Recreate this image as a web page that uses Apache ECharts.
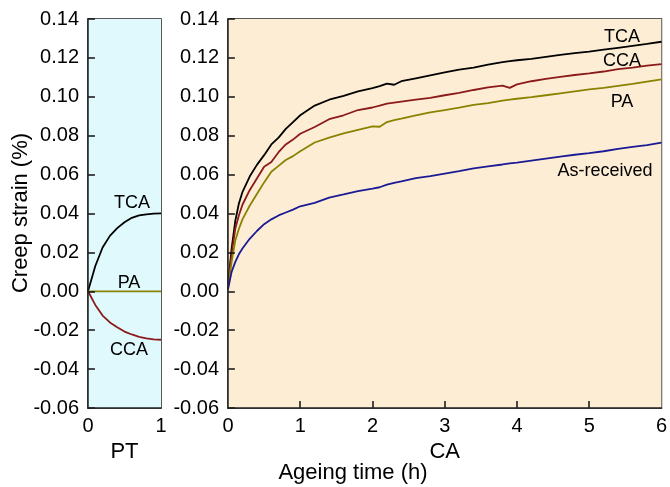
<!DOCTYPE html>
<html>
<head>
<meta charset="utf-8">
<script src="https://cdn.jsdelivr.net/npm/echarts@6/dist/echarts.min.js"></script>
<style>
  html, body { margin: 0; padding: 0; background: #fff; }
  #chart { width: 670px; height: 487px; }
</style>
</head>
<body>
<div id="chart"></div>
<script>
// PT panel (0-1 h)
const timePT = [0, 0.1, 0.2, 0.3, 0.4, 0.5, 0.6, 0.7, 0.8, 0.9, 1.0]
const tcaPT = [0, 0.013, 0.0225, 0.0285, 0.0325, 0.0355, 0.0378, 0.039, 0.0396, 0.0399, 0.0401]
const ccaPT = [0, -0.007, -0.0125, -0.016, -0.0185, -0.0207, -0.0222, -0.0234, -0.0242, -0.0247, -0.0249]
const paPT = [0, 0, 0, 0, 0, 0, 0, 0, 0, 0, 0]

// CA panel (0-6 h)
const timeCA = [0, 0.05, 0.1, 0.15, 0.2, 0.3, 0.4, 0.5, 0.6, 0.7, 0.8, 0.9, 1.0, 1.2, 1.4, 1.6, 1.8, 2.0, 2.1, 2.2,
  2.3, 2.4, 2.6, 2.8, 3.0, 3.2, 3.4, 3.6, 3.8, 3.9, 4.0, 4.2, 4.4, 4.6, 4.8, 5.0, 5.2, 5.4, 5.6, 5.8, 6.0]
const tcaCA = [0.003, 0.022, 0.036, 0.045, 0.051, 0.059, 0.065, 0.070, 0.0755, 0.079, 0.0835, 0.087, 0.0905, 0.0955,
  0.0985, 0.1005, 0.1028, 0.1045, 0.1055, 0.1068, 0.1062, 0.108, 0.1095, 0.111, 0.1125, 0.114, 0.115, 0.1165,
  0.1178, 0.1183, 0.1188, 0.1195, 0.1205, 0.1215, 0.1225, 0.1232, 0.1242, 0.1252, 0.1262, 0.1272, 0.1283]
const ccaCA = [0.003, 0.019, 0.032, 0.039, 0.0445, 0.052, 0.058, 0.064, 0.0665, 0.0715, 0.0755, 0.078, 0.081, 0.0845,
  0.0885, 0.0905, 0.0932, 0.0945, 0.0955, 0.0965, 0.097, 0.0975, 0.0985, 0.0995, 0.1008, 0.102, 0.1035, 0.1048,
  0.1058, 0.1046, 0.1064, 0.108, 0.1092, 0.1102, 0.1112, 0.112, 0.113, 0.1142, 0.115, 0.116, 0.1168]
const paCA = [0.002, 0.015, 0.026, 0.032, 0.037, 0.044, 0.050, 0.056, 0.0615, 0.0645, 0.0675, 0.0695, 0.072, 0.0765,
  0.079, 0.0812, 0.083, 0.0848, 0.0846, 0.087, 0.088, 0.0888, 0.0905, 0.092, 0.0932, 0.0944, 0.0958, 0.0968,
  0.098, 0.0985, 0.099, 0.0998, 0.1008, 0.1018, 0.1028, 0.1038, 0.1046, 0.1056, 0.1066, 0.1078, 0.109]
const asRecCA = [0.001, 0.010, 0.015, 0.019, 0.022, 0.027, 0.031, 0.0345, 0.037, 0.039, 0.0405, 0.042, 0.0437, 0.0455,
  0.0482, 0.0498, 0.0515, 0.0528, 0.0535, 0.0548, 0.0558, 0.0565, 0.0582, 0.0592, 0.0605, 0.0618, 0.0632, 0.0642,
  0.0652, 0.0658, 0.0662, 0.0672, 0.0682, 0.0692, 0.0702, 0.071, 0.072, 0.0732, 0.0742, 0.0752, 0.0764]

// tick values
const yTicks = [-0.06, -0.04, -0.02, 0, 0.02, 0.04, 0.06, 0.08, 0.1, 0.12, 0.14]
const xTicksCA = [1, 2, 3, 4, 5]

const FONT = 'Liberation Sans, Arial, sans-serif'
const colors = { tca: '#000000', cca: '#8b1a1a', pa: '#8a8200', asRec: '#1a1a96' }
const panelBg = ['#dff9fd', '#fdedd4']
const panelX = [[0, 1], [0, 6]]
const tickLenX = [0.095, 0.095] // ~7 px in hours on both panels
const tickLenY = 0.0036 // ~7 px in strain

const pairs = (xs, ys) => xs.map((x, i) => [x, ys[i]])

const yLabel = v => (Math.abs(v) < 1e-9 ? '0.00' : v.toFixed(2))

function yAxisOf (gridIndex) {
  return {
    gridIndex,
    type: 'value',
    z: 10,
    min: -0.06,
    max: 0.14,
    interval: 0.02,
    axisLine: { show: true, onZero: false, lineStyle: { color: '#222', width: 1.5 } },
    axisTick: { show: false },
    axisLabel: { formatter: yLabel, color: '#000', fontSize: 20, fontFamily: FONT, margin: 9 },
    splitLine: { show: false }
  }
}

function line (name, xi, data, color) {
  return {
    name,
    type: 'line',
    xAxisIndex: xi,
    yAxisIndex: xi,
    z: 3,
    data,
    showSymbol: false,
    smooth: false,
    lineStyle: { color, width: 1.8 },
    itemStyle: { color },
    animation: false
  }
}

// panel background, placed through the panel's own axes
function background (xi) {
  return {
    type: 'line',
    xAxisIndex: xi,
    yAxisIndex: xi,
    z: -5,
    data: [],
    silent: true,
    markArea: {
      silent: true,
      itemStyle: { color: panelBg[xi] },
      data: [[{ xAxis: panelX[xi][0], yAxis: -0.06 }, { xAxis: panelX[xi][1], yAxis: 0.14 }]]
    }
  }
}

// inward ticks drawn as short mark lines at the tick values
function ticks (xi, xTicks) {
  const segs = yTicks.map(v => [{ coord: [0, v] }, { coord: [tickLenX[xi], v] }])
    .concat(xTicks.map(t => [{ coord: [t, -0.06] }, { coord: [t, -0.06 + tickLenY] }]))
  return {
    type: 'line',
    xAxisIndex: xi,
    yAxisIndex: xi,
    z: 4,
    data: [],
    silent: true,
    markLine: {
      silent: true,
      symbol: ['none', 'none'],
      label: { show: false },
      lineStyle: { color: '#111', width: 1.5, type: 'solid' },
      emphasis: { disabled: true },
      animation: false,
      data: segs
    }
  }
}

function label (text, x, y) {
  return {
    type: 'text',
    x,
    y,
    z: 100,
    style: { text, fill: '#000', font: '18px ' + FONT, textAlign: 'center', textVerticalAlign: 'middle' }
  }
}

const chart = echarts.init(document.getElementById('chart'), null, { renderer: 'canvas' })
chart.setOption({
  backgroundColor: '#fff',
  animation: false,
  grid: [
    { left: 88, top: 19, width: 73, height: 389, show: true, z: -10, borderColor: '#222', borderWidth: 1.5 },
    { left: 228, top: 19, width: 435, height: 389, show: true, z: -10, borderColor: '#222', borderWidth: 1.5 }
  ],
  xAxis: [
    {
      gridIndex: 0,
      type: 'value',
      z: 10,
      min: 0,
      max: 1,
      interval: 1,
      name: 'PT',
      nameLocation: 'middle',
      nameGap: 32,
      nameTextStyle: { color: '#000', fontSize: 22, fontFamily: FONT },
      axisLine: { show: true, onZero: false, lineStyle: { color: '#222', width: 1.5 } },
      axisTick: { show: false },
      axisLabel: { color: '#000', fontSize: 20, fontFamily: FONT, margin: 8 },
      splitLine: { show: false }
    },
    {
      gridIndex: 1,
      type: 'value',
      z: 10,
      min: 0,
      max: 6,
      interval: 1,
      name: 'CA',
      nameLocation: 'middle',
      nameGap: 32,
      nameTextStyle: { color: '#000', fontSize: 22, fontFamily: FONT },
      axisLine: { show: true, onZero: false, lineStyle: { color: '#222', width: 1.5 } },
      axisTick: { show: false },
      axisLabel: { color: '#000', fontSize: 20, fontFamily: FONT, margin: 8 },
      splitLine: { show: false }
    }
  ],
  yAxis: [yAxisOf(0), yAxisOf(1)],
  series: [
    background(0),
    background(1),
    ticks(0, []),
    ticks(1, xTicksCA),
    line('TCA', 0, pairs(timePT, tcaPT), colors.tca),
    line('CCA', 0, pairs(timePT, ccaPT), colors.cca),
    line('PA', 0, pairs(timePT, paPT), colors.pa),
    line('TCA', 1, pairs(timeCA, tcaCA), colors.tca),
    line('CCA', 1, pairs(timeCA, ccaCA), colors.cca),
    line('PA', 1, pairs(timeCA, paCA), colors.pa),
    line('As-received', 1, pairs(timeCA, asRecCA), colors.asRec)
  ],
  graphic: [
    label('TCA', 132, 203),
    label('PA', 129, 283),
    label('CCA', 129, 350),
    label('TCA', 622, 37),
    label('CCA', 622, 61),
    label('PA', 622, 102),
    label('As-received', 605, 171),
    {
      type: 'text',
      x: 353,
      y: 473,
      z: 100,
      style: { text: 'Ageing time (h)', fill: '#000', font: '22px ' + FONT, textAlign: 'center', textVerticalAlign: 'middle' }
    },
    {
      type: 'text',
      x: 21,
      y: 213,
      z: 100,
      rotation: Math.PI / 2,
      style: { text: 'Creep strain (%)', fill: '#000', font: '22px ' + FONT, textAlign: 'center', textVerticalAlign: 'middle' }
    }
  ]
})
</script>
</body>
</html>
